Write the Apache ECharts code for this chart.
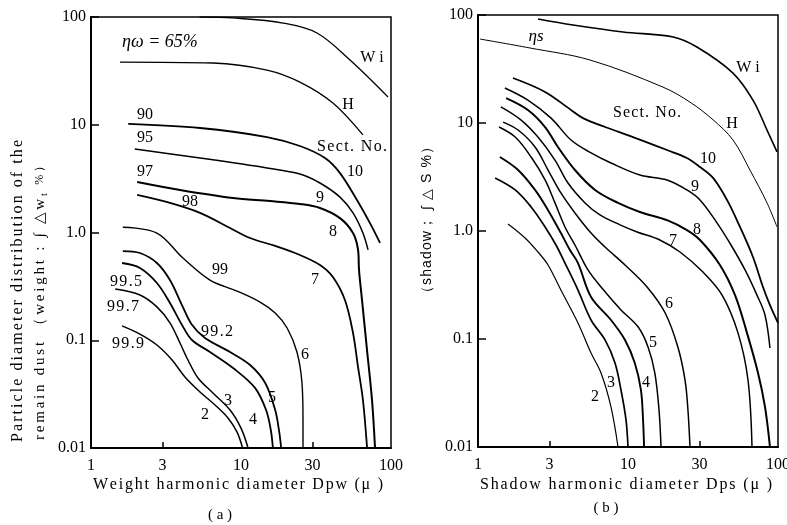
<!DOCTYPE html>
<html><head><meta charset="utf-8">
<script src="https://cdn.jsdelivr.net/npm/echarts@6/dist/echarts.min.js"></script>
<style>html,body{margin:0;padding:0;background:#fff}#c{width:787px;height:525px}</style>
</head><body><div id="c"></div>
<script>
// ---- axes ----
const xTickValues = [1, 3, 10, 30, 100];
const xMinorTicks = [3, 30];
const yTickValues = [0.01, 0.1, 1, 10, 100];
const yTickLabels = ['0.01', '0.1', '1.0', '10', '100'];

// ---- (a) weight harmonic diameter [Dpw (μ), ∫Δw %] ----
const aWi = [[5.3,100],[8.85,98],[19.1,87.9],[32.1,71.1],[53.3,39.9],[95.5,18.1]];
const aH  = [[1.56,38.2],[6.5,37.4],[14.9,32.2],[24.7,24.9],[41,15.9],[65,8.04]];
const a10 = [[1.77,10.2],[5.33,9.33],[14.9,7.69],[24.7,6.35],[36.3,4.91],[45.7,3.56],[59.3,2.0],[72.4,1.22],[84.5,0.80]];
const a9  = [[1.96,5.96],[5.33,4.91],[14.9,3.97],[24.7,3.49],[33.6,2.88],[45.7,2.13],[55.8,1.52],[65,0.989],[70.3,0.689]];
const a8  = [[2.03,2.94],[3.92,2.48],[8.85,2.09],[15.6,1.96],[24.7,1.84],[33.6,1.69],[45.7,1.36],[55.8,0.989],[60.3,0.689],[61.2,0.449],[64.1,0.236],[69.2,0.0812],[74.7,0.0279],[78.2,0.0102]];
const a7  = [[2.03,2.23],[3.36,1.88],[5.33,1.52],[8.45,1.10],[11.5,0.889],[16.9,0.75],[24.7,0.618],[33.6,0.499],[41,0.386],[49.3,0.236],[55.8,0.117],[60.3,0.0564],[65,0.0279],[69.2,0.0102]];
const a6  = [[1.63,1.12],[2.75,0.989],[4.10,0.580],[6.21,0.362],[9.40,0.286],[13.4,0.226],[16.9,0.179],[20.3,0.130],[23.6,0.0778],[25.5,0.0401],[25.9,0.0182],[25.9,0.0102]];
const a5  = [[1.63,0.673],[2.12,0.645],[2.75,0.521],[3.36,0.362],[4.04,0.212],[4.71,0.139],[5.75,0.105],[8.45,0.0778],[11.5,0.0589],[14.5,0.0401],[16.9,0.0225],[17.9,0.0147],[18.5,0.0102]];
const a4  = [[1.61,0.521],[2.12,0.469],[2.75,0.340],[3.36,0.222],[4.04,0.139],[4.71,0.1005],[6.21,0.0778],[8.85,0.0553],[12.4,0.0361],[14.7,0.0225],[15.8,0.0147],[16.3,0.0102]];
const a3  = [[1.45,0.299],[2.12,0.263],[2.75,0.204],[3.36,0.145],[3.92,0.0942],[4.43,0.0656],[5.17,0.0446],[6.50,0.0324],[8.45,0.0225],[10,0.0153],[11.1,0.0102]];
const a2  = [[1.61,0.136],[2.12,0.114],[2.75,0.0903],[3.47,0.0656],[4.23,0.0456],[5.33,0.0331],[6.71,0.0251],[8.19,0.0190],[9.40,0.0141],[10.2,0.0102]];

// ---- (b) shadow harmonic diameter [Dps (μ), ∫ΔS %] ----
const bWi = [[2.51,91.8],[4.30,80.8],[9.26,69.6],[20,62.6],[28.8,50.5],[50.1,29],[68.1,16.3],[84.5,8.6],[98.5,5.4]];
const bH  = [[1.03,59.9],[2.22,49.5],[5.58,38.3],[17.1,21.5],[25.9,15.6],[36.9,10.7],[50.1,6.96],[65,3.67],[84.5,1.82],[98.5,1.09]];
const b10 = [[1.71,26.1],[2.80,19.4],[4.17,13.2],[5.01,11.1],[7.03,9.18],[10.8,7.41],[18.2,5.62],[24.7,4.74],[30.2,3.91],[36.9,3.10],[45.7,1.94],[55.8,1.09],[68.1,0.574],[79.4,0.303],[88.4,0.206],[100,0.141]];
const b9  = [[1.51,21.1],[2.15,16.3],[3.07,11.1],[4.17,6.96],[5.67,5.28],[7.70,4.26],[12,3.30],[18.2,2.97],[24.7,2.40],[30.2,1.94],[39.2,1.19],[48.6,0.742],[60.3,0.436],[72.4,0.255],[81.9,0.167],[88.4,0.0826]];
const b8  = [[1.54,17],[2.15,13.2],[2.80,9.18],[3.41,6.0],[4.43,3.67],[6.03,2.40],[8.58,1.82],[12,1.50],[18.2,1.26],[24.7,1.02],[30.2,0.826],[41,0.485],[51.7,0.255],[62.1,0.114],[73.6,0.0484],[81.9,0.0235],[88.4,0.01]];
const b7  = [[1.42,14.1],[1.93,10.7],[2.51,7.41],[3.26,4.54],[3.98,2.78],[5.17,1.82],[6.50,1.41],[8.85,1.14],[11.5,0.98],[16.3,0.826],[22.2,0.639],[31.6,0.417],[42.4,0.255],[54.1,0.114],[63.1,0.0417],[67.1,0.01]];
const b6  = [[1.47,10.2],[1.85,8.61],[2.40,6.0],[2.93,3.67],[3.57,2.25],[4.43,1.47],[5.67,0.958],[7.03,0.711],[9.55,0.485],[13.4,0.303],[17.7,0.174],[21.5,0.0843],[24,0.0417],[25.1,0.022],[25.9,0.01]];
const b5  = [[1.38,9.18],[1.77,7.41],[2.26,4.84],[2.80,2.97],[3.26,1.82],[3.80,1.09],[4.43,0.742],[5.41,0.436],[6.61,0.303],[8.98,0.186],[11.7,0.129],[13.6,0.0843],[15.1,0.0484],[16.1,0.022],[16.6,0.01]];
const b4  = [[1.40,4.84],[1.85,3.67],[2.40,2.40],[2.93,1.56],[3.57,0.958],[4.10,0.667],[4.64,0.505],[5.67,0.245],[7.70,0.150],[9.55,0.098],[11.1,0.060],[12.2,0.0337],[12.6,0.0178],[12.8,0.01]];
const b3  = [[1.30,3.10],[1.77,2.40],[2.26,1.67],[2.80,1.09],[3.31,0.742],[3.80,0.505],[4.64,0.284],[5.67,0.150],[7.03,0.098],[8.19,0.060],[8.98,0.0337],[9.70,0.0178],[10,0.01]];
const b2  = [[1.585,1.16],[2.06,0.861],[2.51,0.639],[2.93,0.485],[3.57,0.284],[4.64,0.141],[5.67,0.0742],[6.61,0.0484],[7.70,0.0235],[8.58,0.01]];

const SERIF = '"Liberation Serif","DejaVu Serif",serif';
const SANS = '"Liberation Sans","DejaVu Sans",sans-serif';

const curves = [
  [0, aWi, 1.3], [0, aH, 1.3], [0, a10, 1.8], [0, a9, 1.5], [0, a8, 2.0], [0, a7, 1.8],
  [0, a6, 1.4], [0, a5, 1.8], [0, a4, 1.8], [0, a3, 1.5], [0, a2, 1.5],
  [1, bWi, 1.6], [1, bH, 1.0], [1, b10, 1.8], [1, b9, 1.5], [1, b8, 2.0], [1, b7, 1.5],
  [1, b6, 1.5], [1, b5, 1.5], [1, b4, 1.9], [1, b3, 1.7], [1, b2, 1.2]
];

function xAxisDef(i) {
  return {
    type: 'log', logBase: 10, gridIndex: i, min: 1, max: 100,
    axisLine: { show: true, lineStyle: { color: '#000', width: 2 } },
    axisTick: { show: true, inside: true, length: 6, customValues: xMinorTicks, lineStyle: { color: '#000', width: 1.5 } },
    minorTick: { show: false },
    splitLine: { show: false },
    axisLabel: { customValues: xTickValues, formatter: v => String(Math.round(v)), color: '#000',
      fontFamily: SERIF, fontSize: 16, margin: 10 }
  };
}
function yAxisDef(i) {
  return {
    type: 'log', logBase: 10, gridIndex: i, min: 0.01, max: 100,
    axisLine: { show: true, lineStyle: { color: '#000', width: 2 } },
    axisTick: { show: true, inside: true, length: 8, lineStyle: { color: '#000', width: 1.5 } },
    minorTick: { show: false },
    splitLine: { show: false },
    axisLabel: { formatter: v => yTickLabels[Math.round(Math.log10(v)) + 2], color: '#000',
      fontFamily: SERIF, fontSize: 16, margin: 5 }
  };
}

// letter-spaced text (laid out per character to a target length)
const mctx = document.createElement('canvas').getContext('2d');
function spaced(segs, total, cx, cy, rot) {
  const items = [];
  segs.forEach(s => { [...s.t].forEach(ch => items.push({ ch, font: s.font, dy: s.dy || 0 })); });
  const widths = items.map(it => { mctx.font = it.font; return mctx.measureText(it.ch).width; });
  const nat = widths.reduce((a, b) => a + b, 0);
  const sp = (total - nat) / (items.length - 1);
  let x = -total / 2;
  const children = items.map((it, i) => {
    const el = { type: 'text', x: x, y: it.dy, style: { text: it.ch, font: it.font, fill: '#000', align: 'left', verticalAlign: 'middle' } };
    x += widths[i] + sp;
    return el;
  });
  return { type: 'group', x: cx, y: cy, rotation: rot || 0, children };
}
function lbl(text, x, y, size, opts) {
  opts = opts || {};
  return { type: 'text', x, y, style: { text, fill: '#000', align: opts.align || 'center', verticalAlign: 'middle',
    font: (opts.style || '') + ' ' + size + 'px ' + (opts.family || SERIF) } };
}

const f16 = '16px ' + SERIF, f15 = '15px ' + SERIF, f14 = '14px ' + SERIF;
const graphics = [
  // left panel labels
  lbl('ηω = 65%', 122, 42, 18, { align: 'left', style: 'italic' }),
  lbl('W i', 372, 58, 16), lbl('H', 348, 105, 16),
  spaced([{ t: 'Sect. No.', font: f16 }], 70, 352, 147, 0),
  lbl('10', 355, 172, 16), lbl('9', 320, 198, 16), lbl('8', 333, 232, 16), lbl('7', 315, 280, 16),
  lbl('6', 305, 355, 16), lbl('5', 272, 398, 16), lbl('4', 253, 420, 16), lbl('3', 228, 401, 16), lbl('2', 205, 415, 16),
  lbl('90', 145, 115, 16), lbl('95', 145, 138, 16), lbl('97', 145, 172, 16), lbl('98', 190, 202, 16),
  lbl('99', 220, 270, 16),
  spaced([{ t: '99.5', font: f16 }], 32, 126, 282, 0),
  spaced([{ t: '99.7', font: f16 }], 32, 123, 307, 0),
  spaced([{ t: '99.2', font: f16 }], 32, 217, 332, 0),
  spaced([{ t: '99.9', font: f16 }], 32, 128, 344, 0),
  // right panel labels
  lbl('ηs', 536, 37, 17, { style: 'italic' }),
  lbl('W i', 748, 68, 16),
  spaced([{ t: 'Sect. No.', font: f16 }], 68, 647, 113, 0),
  lbl('H', 732, 124, 16),
  lbl('10', 708, 159, 16), lbl('9', 695, 187, 16), lbl('8', 697, 230, 16), lbl('7', 673, 241, 16),
  lbl('6', 669, 304, 16), lbl('5', 653, 343, 16), lbl('4', 646, 383, 16), lbl('3', 611, 383, 16), lbl('2', 595, 397, 16),
  // axis titles
  spaced([{ t: 'Weight harmonic diameter Dpw (μ )', font: f16 }], 290, 238, 485, 0),
  spaced([{ t: 'Shadow harmonic diameter Dps (μ )', font: f16 }], 292, 626, 485, 0),
  lbl('( a )', 220, 515, 15), lbl('( b )', 606, 508, 15),
  spaced([{ t: 'Particle diameter distribution of the', font: f16 }], 302, 18, 291, Math.PI / 2),
  spaced([{ t: 'remain dust （weight : ∫ △w', font: f15 }, { t: 't', font: '10px ' + SERIF, dy: 4 }, { t: ' %）', font: '12px ' + SERIF }], 280, 40, 300, Math.PI / 2),
  spaced([{ t: '（shadow； ∫ △ S %）', font: '14px ' + SANS }], 160, 427, 220, Math.PI / 2)
];

const chart = echarts.init(document.getElementById('c'), null, { renderer: 'canvas' });
chart.setOption({
  animation: false,
  backgroundColor: '#fff',
  grid: [
    { left: 91, top: 17, width: 300, height: 431, show: true, borderColor: '#000', borderWidth: 1.5, containLabel: false, outerBoundsMode: 'none' },
    { left: 478, top: 15, width: 300, height: 432, show: true, borderColor: '#000', borderWidth: 1.5, containLabel: false, outerBoundsMode: 'none' }
  ],
  xAxis: [xAxisDef(0), xAxisDef(1)],
  yAxis: [yAxisDef(0), yAxisDef(1)],
  series: curves.map(([g, d, w]) => ({
    type: 'line', xAxisIndex: g, yAxisIndex: g, data: d, showSymbol: false, symbol: 'none',
    smooth: 0.35, clip: true, silent: true,
    lineStyle: { color: '#000', width: w }
  })),
  graphic: graphics
});
</script>
</body></html>
